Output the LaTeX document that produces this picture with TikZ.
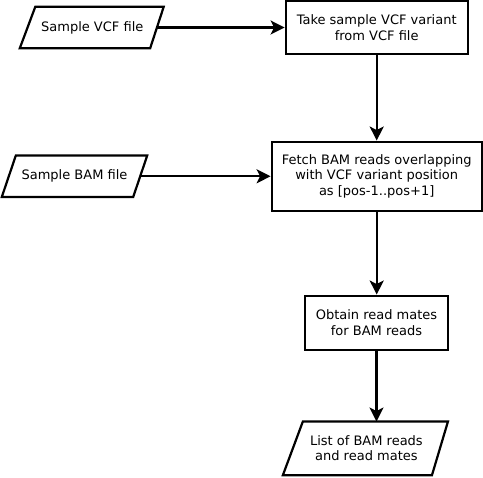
\documentclass[tikz,border=0pt]{standalone}
\usepackage{fontspec}
\setmainfont{DejaVu Sans}
\usetikzlibrary{arrows.meta,calc}
\tikzset{
  proc/.style={draw=black, line width=2.2pt, fill=white, align=center, inner sep=0pt,
    font=\fontsize{13}{15.5}\selectfont},
  io/.style={draw=none, align=center, inner sep=0pt, font=\fontsize{13}{15.5}\selectfont},
  flow/.style={line width=2.2pt, -{Stealth[length=14pt,width=14pt,inset=3.5pt]}},
  para/.style={draw=black, line width=2.2pt, line join=miter},
}
\begin{document}
\begin{tikzpicture}[x=1pt,y=-1pt]
\useasboundingbox (0,0) rectangle (483,478);
% input / output parallelograms (node + outline)
\node[io, minimum width=128.5pt, minimum height=41pt] (vcf) at (92.25,27.5) {Sample VCF file};
\draw[para] ($(vcf.north west)+(7.5,0)$) -- ($(vcf.north east)+(7,0)$) -- ($(vcf.south east)+(-6.5,0)$) -- ($(vcf.south west)+(-8,0)$) -- cycle;
\node[io, minimum width=131pt, minimum height=41pt] (bam) at (74.5,176.3) {Sample BAM file};
\draw[para] ($(bam.north west)+(7,0)$) -- ($(bam.north east)+(7,0)$) -- ($(bam.south east)+(-7,0)$) -- ($(bam.south west)+(-7,0)$) -- cycle;
\node[io, minimum width=146.7pt, minimum height=53.3pt] (out) at (366.4,448.4) {List of BAM reads\\and read mates};
\draw[para] ($(out.north west)+(10,0)$) -- ($(out.north east)+(8,0)$) -- ($(out.south east)+(-8,0)$) -- ($(out.south west)+(-10,0)$) -- cycle;
% process boxes
\node[proc, minimum width=182pt, minimum height=53pt] (take) at (376.7,27.5) {Take sample VCF variant\\from VCF file};
\node[proc, minimum width=210pt, minimum height=69.3pt] (fetch) at (376.7,176.3) {Fetch BAM reads overlapping\\with VCF variant position\\as [pos-1..pos+1]};
\node[proc, minimum width=142.7pt, minimum height=54.3pt] (mates) at (376.5,322.8) {Obtain read mates\\for BAM reads};
% connectors
\draw[flow] (vcf.east) -- (vcf.east -| take.west);
\draw[flow] (bam.east) -- (bam.east -| fetch.west);
\draw[flow] (take.south) -- (take.south |- fetch.north);
\draw[flow] (fetch.south) -- (fetch.south |- mates.north);
\draw[flow] (mates.south) -- (mates.south |- out.north);
\end{tikzpicture}
\end{document}
